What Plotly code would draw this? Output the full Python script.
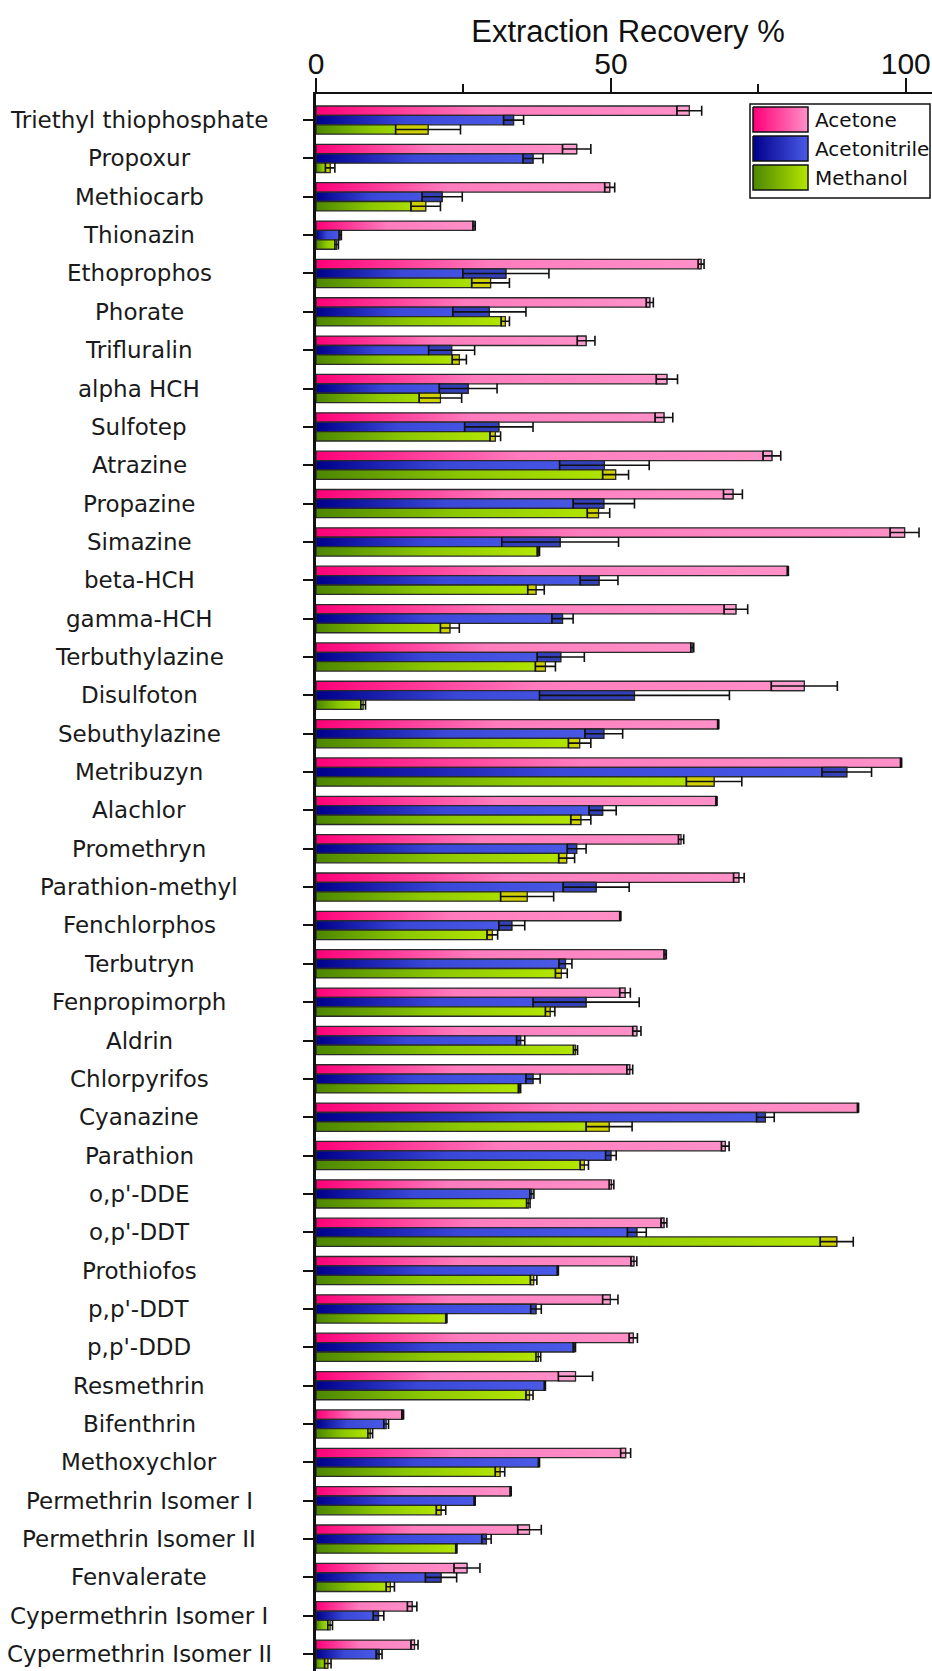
import plotly.graph_objects as go

# ---- data -------------------------------------------------------------
compounds = [
    "Triethyl thiophosphate", "Propoxur", "Methiocarb", "Thionazin", "Ethoprophos",
    "Phorate", "Trifluralin", "alpha HCH", "Sulfotep", "Atrazine",
    "Propazine", "Simazine", "beta-HCH", "gamma-HCH", "Terbuthylazine",
    "Disulfoton", "Sebuthylazine", "Metribuzyn", "Alachlor", "Promethryn",
    "Parathion-methyl", "Fenchlorphos", "Terbutryn", "Fenpropimorph", "Aldrin",
    "Chlorpyrifos", "Cyanazine", "Parathion", "o,p'-DDE", "o,p'-DDT",
    "Prothiofos", "p,p'-DDT", "p,p'-DDD", "Resmethrin", "Bifenthrin",
    "Methoxychlor", "Permethrin Isomer I", "Permethrin Isomer II", "Fenvalerate",
    "Cypermethrin Isomer I", "Cypermethrin Isomer II",
]

acetone = [63.3, 44.2, 49.8, 26.8, 65.3, 56.6, 45.8, 59.5, 59.0, 77.3,
           70.7, 99.8, 80.0, 71.2, 63.8, 82.8, 68.2, 99.2, 67.9, 61.9,
           71.7, 51.6, 59.2, 52.4, 54.4, 53.2, 91.9, 69.4, 50.1, 59.0,
           53.9, 49.9, 53.8, 44.0, 14.7, 52.5, 33.0, 36.2, 25.6, 16.3, 16.7]
acetone_err = [2.1, 2.4, 0.85, 0.2, 0.5, 0.6, 1.5, 1.8, 1.5, 1.5,
               1.6, 2.45, 0.1, 2.0, 0.25, 5.6, 0.1, 0.1, 0.1, 0.45,
               0.9, 0.1, 0.2, 0.9, 0.7, 0.5, 0.1, 0.65, 0.4, 0.5,
               0.5, 1.3, 0.7, 2.9, 0.15, 0.85, 0.1, 2.0, 2.2, 0.8, 0.6]

acetonitrile = [33.5, 36.8, 21.4, 4.1, 32.2, 29.4, 23.0, 25.8, 31.0, 48.9,
                48.8, 41.4, 48.0, 41.8, 41.5, 54.0, 48.8, 90.0, 48.6, 44.2,
                47.5, 33.2, 42.3, 45.8, 34.7, 36.8, 76.2, 50.0, 36.6, 54.4,
                41.0, 37.3, 43.8, 38.8, 11.9, 37.8, 26.9, 28.9, 21.2, 10.6, 10.7]
acetonitrile_err = [1.7, 1.7, 3.4, 0.2, 7.3, 6.2, 3.9, 4.9, 5.8, 7.6,
                    5.2, 9.9, 3.2, 1.8, 4.0, 16.1, 3.2, 4.2, 2.3, 1.6,
                    5.6, 2.2, 1.1, 9.0, 0.7, 1.2, 1.5, 0.9, 0.35, 1.6,
                    0.1, 0.9, 0.2, 0.1, 0.4, 0.1, 0.1, 0.8, 2.65, 0.9, 0.5]

methanol = [19.0, 2.4, 18.6, 3.5, 29.6, 32.1, 24.3, 21.1, 30.4, 50.8,
            47.9, 37.7, 37.3, 22.7, 38.9, 8.0, 44.7, 67.5, 44.9, 42.5,
            35.8, 29.9, 41.6, 39.7, 44.0, 34.5, 49.7, 45.5, 36.0, 88.3,
            36.9, 22.1, 37.7, 36.2, 9.2, 31.2, 21.2, 23.8, 12.6, 2.4, 2.0]
methanol_err = [5.5, 0.8, 2.5, 0.3, 3.2, 0.7, 1.2, 3.6, 0.9, 2.2,
                1.9, 0.2, 1.4, 1.6, 1.7, 0.4, 1.9, 4.7, 1.7, 1.35,
                4.5, 0.9, 1.0, 0.8, 0.35, 0.2, 3.9, 0.7, 0.3, 2.8,
                0.55, 0.1, 0.4, 0.6, 0.4, 0.8, 0.8, 0.1, 0.7, 0.4, 0.55]

solvents = ["Acetone", "Acetonitrile", "Methanol"]
x_ticks = [0, 50, 100]
x_minor_ticks = [25, 75]

# ---- styling ----------------------------------------------------------
W, H = 932, 1671
ML, MT = 316, 94
PW, PH = W - ML, H - MT

bar_scales = [
    [[0, "#FF0078"], [0.45, "#FF7CBE"], [1, "#FF90C8"]],
    [[0, "#00008A"], [0.45, "#3A48D8"], [1, "#4A5AE6"]],
    [[0, "#4C8600"], [0.5, "#8CC800"], [1, "#B4E600"]],
]
swatch_scales = [
    [[0, "#FF0078"], [1, "#FF90C8"]],
    [[0, "#00008A"], [1, "#4A5AE6"]],
    [[0, "#4C8600"], [1, "#B4E600"]],
]
# shading of the lower half of each error interval (inside the bar)
err_shades = ["rgba(255,170,215,0.6)", "rgba(20,30,120,0.40)", "rgba(212,205,0,0.85)"]

bar_h = 0.245
offsets = [-bar_h, 0.0, bar_h]

values = [acetone, acetonitrile, methanol]
errors = [acetone_err, acetonitrile_err, methanol_err]

fig = go.Figure()

# gradient-filled horizontal bars, one polygon per bar in data coordinates
for s in range(3):
    for i, v in enumerate(values[s]):
        yc = i + offsets[s]
        y0, y1 = yc - bar_h / 2, yc + bar_h / 2
        fig.add_trace(go.Scatter(
            x=[0, v, v, 0, 0], y=[y0, y0, y1, y1, y0],
            mode="lines", fill="toself",
            fillgradient=dict(type="horizontal", colorscale=bar_scales[s]),
            line=dict(color="#2a2a2a", width=1.3),
            showlegend=False, hoverinfo="skip",
        ))
        e = errors[s][i]
        if e >= 0.5:
            lo = max(v - e, 0)
            fig.add_trace(go.Scatter(
                x=[lo, v, v, lo, lo], y=[y0, y0, y1, y1, y0],
                mode="lines", fill="toself", fillcolor=err_shades[s],
                line=dict(color="#2a2a2a", width=1.1),
                showlegend=False, hoverinfo="skip",
            ))

# error bars at the bar ends
for s in range(3):
    fig.add_trace(go.Scatter(
        x=values[s], y=[i + offsets[s] for i in range(len(compounds))],
        mode="markers", marker=dict(size=2, opacity=0),
        error_x=dict(type="data", array=errors[s], color="#111111",
                     thickness=1.6, width=5),
        name=solvents[s], showlegend=False,
        hovertemplate="%{x:.1f}<extra>" + solvents[s] + "</extra>",
    ))

# legend swatches live on their own small pixel-scaled axes
lx0, lx1 = 748, 932
ly0, ly1 = 104, 200
sw_x0, sw_x1 = 753, 808
sw_rows = [(107, 132), (136, 161), (165, 190)]
for s, (a, b) in enumerate(sw_rows):
    fig.add_trace(go.Scatter(
        x=[sw_x0, sw_x1, sw_x1, sw_x0, sw_x0], y=[a, a, b, b, a],
        xaxis="x2", yaxis="y2", mode="lines", fill="toself",
        fillgradient=dict(type="horizontal", colorscale=swatch_scales[s]),
        line=dict(color="#111111", width=1.5),
        showlegend=False, hoverinfo="skip",
    ))
    fig.add_annotation(
        x=813, y=(a + b) / 2, xref="x2", yref="y2", text=solvents[s],
        showarrow=False, xanchor="left", yanchor="middle",
        font=dict(family="DejaVu Sans", size=20, color="#111111"),
    )

# legend frame
fig.add_shape(
    type="rect", xref="paper", yref="paper", layer="above",
    x0=(750 - ML) / PW, x1=(930 - ML) / PW,
    y0=1 - (198 - MT) / PH, y1=1 - (104 - MT) / PH,
    line=dict(color="#111111", width=1.5), fillcolor="rgba(0,0,0,0)",
)

# compound names, centred in the left margin
for i, name in enumerate(compounds):
    fig.add_annotation(
        x=(139 - ML) / PW, xref="paper", y=i, yref="y", text=name,
        showarrow=False, xanchor="center", yanchor="middle",
        font=dict(family="DejaVu Sans", size=23, color="#1a1a1a"),
    )

fig.update_layout(
    width=W, height=H,
    margin=dict(l=ML, r=0, t=MT, b=0, pad=0),
    paper_bgcolor="white", plot_bgcolor="white",
    showlegend=False,
    title=dict(
        text="Extraction Recovery %", x=628 / W, xanchor="center",
        y=1 - 31 / H, yanchor="middle", xref="container", yref="container",
        font=dict(family="Liberation Sans, Arial", size=31, color="#111111"),
    ),
    xaxis=dict(
        side="top", range=[0, 104.45], tickvals=x_ticks,
        ticks="outside", ticklen=14, tickwidth=2, tickcolor="#111111",
        ticklabelstandoff=-8,
        minor=dict(tickvals=x_minor_ticks, ticks="outside", ticklen=8,
                   tickwidth=2, tickcolor="#111111"),
        showline=True, linewidth=2, linecolor="#111111",
        showgrid=False, zeroline=False,
        tickfont=dict(family="Liberation Sans, Arial", size=30, color="#111111"),
    ),
    yaxis=dict(
        range=[40.44, -0.68], tickvals=list(range(len(compounds))),
        showticklabels=False, ticks="outside", ticklen=10, tickwidth=2,
        tickcolor="#111111", showline=True, linewidth=3, linecolor="#111111",
        showgrid=False, zeroline=False,
    ),
    xaxis2=dict(
        domain=[(lx0 - ML) / PW, 1], range=[lx0, lx1], anchor="y2",
        visible=False, fixedrange=True,
    ),
    yaxis2=dict(
        domain=[1 - (ly1 - MT) / PH, 1 - (ly0 - MT) / PH], range=[ly1, ly0],
        anchor="x2", visible=False, fixedrange=True,
    ),
)

fig.write_html("out.html")
